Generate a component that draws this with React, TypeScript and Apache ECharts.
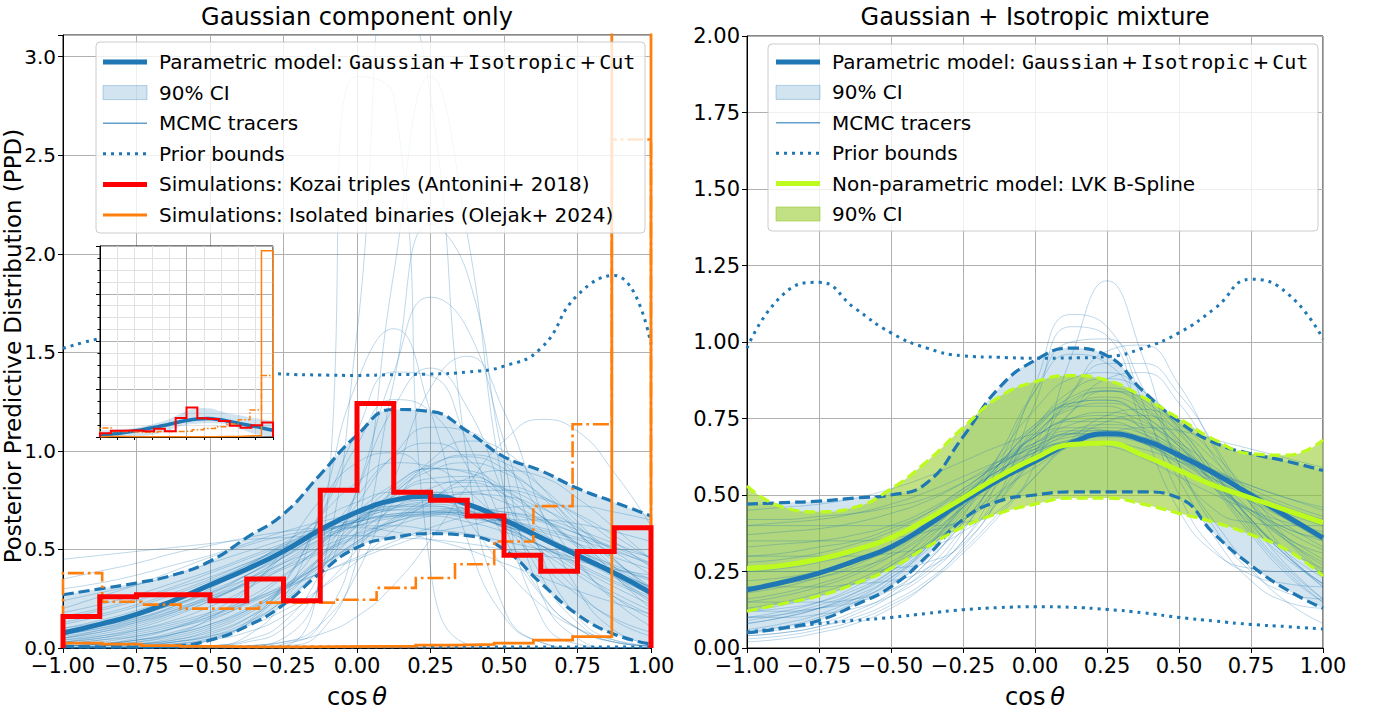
import { useEffect, useRef } from 'react';
import * as echarts from 'echarts';

// Sample positions (cos theta) shared by every smooth curve
const X = [-1, -0.875, -0.75, -0.625, -0.5, -0.375, -0.25, -0.125, 0, 0.125, 0.25, 0.375, 0.5, 0.625, 0.75, 0.875, 1];

// ---- Left panel: Gaussian component only ----
const G_MEDIAN = [0.076, 0.12, 0.17, 0.24, 0.32, 0.4, 0.49, 0.6, 0.69, 0.75, 0.77, 0.73, 0.65, 0.56, 0.47, 0.38, 0.28];
const G_UPPER = [0.27, 0.3, 0.33, 0.37, 0.44, 0.56, 0.68, 0.88, 1.08, 1.21, 1.2, 1.1, 0.97, 0.9, 0.81, 0.74, 0.67];
const G_LOWER = [0.01, 0.005, 0.005, 0.01, 0.04, 0.11, 0.22, 0.38, 0.51, 0.56, 0.58, 0.57, 0.5, 0.33, 0.17, 0.07, 0.02];
const G_PRIOR_UP = [1.52, 1.57, 1.6, 1.56, 1.48, 1.42, 1.39, 1.385, 1.383, 1.387, 1.39, 1.4, 1.43, 1.52, 1.79, 1.89, 1.54];
const G_PRIOR_LO = [0.005, 0.005, 0.005, 0.005, 0.005, 0.005, 0.005, 0.005, 0.005, 0.005, 0.005, 0.005, 0.005, 0.005, 0.005, 0.005, 0.005];

const TRACERS_GAUSSIAN = [
  [0.05, 0.08, 0.13, 0.19, 0.27, 0.37, 0.48, 0.59, 0.68, 0.74, 0.76, 0.73, 0.66, 0.57, 0.46, 0.36, 0.27],
  [0.15, 0.19, 0.24, 0.3, 0.36, 0.43, 0.5, 0.57, 0.62, 0.66, 0.68, 0.67, 0.64, 0.59, 0.53, 0.46, 0.4],
  [0.01, 0.02, 0.04, 0.08, 0.14, 0.23, 0.36, 0.52, 0.69, 0.83, 0.91, 0.9, 0.81, 0.67, 0.51, 0.36, 0.23],
  [0.1, 0.14, 0.19, 0.25, 0.33, 0.42, 0.52, 0.61, 0.68, 0.72, 0.72, 0.68, 0.61, 0.52, 0.43, 0.34, 0.26],
  [0.02, 0.04, 0.06, 0.1, 0.15, 0.22, 0.31, 0.42, 0.54, 0.65, 0.74, 0.78, 0.77, 0.71, 0.61, 0.49, 0.37],
  [0.01, 0.02, 0.05, 0.1, 0.18, 0.3, 0.47, 0.67, 0.84, 0.94, 0.92, 0.8, 0.62, 0.43, 0.27, 0.15, 0.08],
  [0.3, 0.33, 0.37, 0.42, 0.47, 0.53, 0.59, 0.64, 0.68, 0.7, 0.7, 0.68, 0.65, 0.61, 0.56, 0.51, 0.46],
  [0.0, 0.01, 0.02, 0.04, 0.08, 0.15, 0.27, 0.43, 0.62, 0.8, 0.93, 0.97, 0.91, 0.77, 0.59, 0.41, 0.26],
  [0.08, 0.11, 0.15, 0.2, 0.26, 0.33, 0.41, 0.49, 0.57, 0.64, 0.69, 0.71, 0.69, 0.65, 0.58, 0.5, 0.42],
  [0.0, 0.0, 0.01, 0.02, 0.05, 0.12, 0.25, 0.46, 0.73, 0.98, 1.12, 1.1, 0.94, 0.69, 0.44, 0.24, 0.11],
  [0.05, 0.09, 0.14, 0.21, 0.3, 0.41, 0.53, 0.65, 0.74, 0.79, 0.79, 0.73, 0.63, 0.51, 0.39, 0.28, 0.19],
  [0.0, 0.01, 0.02, 0.03, 0.06, 0.11, 0.19, 0.3, 0.44, 0.6, 0.75, 0.86, 0.9, 0.87, 0.76, 0.61, 0.45],
  [0.35, 0.39, 0.43, 0.48, 0.52, 0.56, 0.59, 0.61, 0.62, 0.62, 0.6, 0.58, 0.54, 0.5, 0.45, 0.4, 0.35],
  [0.04, 0.06, 0.09, 0.13, 0.18, 0.24, 0.31, 0.38, 0.45, 0.52, 0.58, 0.62, 0.65, 0.65, 0.63, 0.59, 0.54],
  [0.01, 0.02, 0.04, 0.07, 0.12, 0.2, 0.3, 0.43, 0.58, 0.71, 0.81, 0.85, 0.81, 0.72, 0.58, 0.44, 0.31],
  [0.0, 0.0, 0.01, 0.03, 0.07, 0.15, 0.3, 0.52, 0.77, 0.97, 1.04, 0.96, 0.75, 0.5, 0.29, 0.14, 0.06],
  [0.02, 0.04, 0.07, 0.11, 0.16, 0.23, 0.32, 0.42, 0.53, 0.64, 0.73, 0.79, 0.8, 0.76, 0.68, 0.57, 0.45],
  [0.2, 0.26, 0.32, 0.39, 0.46, 0.52, 0.57, 0.6, 0.61, 0.59, 0.55, 0.5, 0.43, 0.36, 0.29, 0.23, 0.17],
  [0.03, 0.05, 0.08, 0.12, 0.17, 0.23, 0.3, 0.38, 0.46, 0.54, 0.61, 0.67, 0.71, 0.72, 0.72, 0.69, 0.65],
  [0.07, 0.1, 0.14, 0.19, 0.25, 0.32, 0.4, 0.48, 0.56, 0.62, 0.67, 0.69, 0.68, 0.64, 0.58, 0.51, 0.43],
  [0.45, 0.47, 0.49, 0.51, 0.53, 0.55, 0.56, 0.57, 0.57, 0.56, 0.55, 0.53, 0.5, 0.47, 0.44, 0.4, 0.37],
  [0.12, 0.16, 0.21, 0.27, 0.34, 0.42, 0.51, 0.6, 0.67, 0.71, 0.72, 0.69, 0.63, 0.55, 0.46, 0.37, 0.29],
  [0.03, 0.05, 0.09, 0.14, 0.21, 0.3, 0.41, 0.53, 0.65, 0.74, 0.79, 0.79, 0.74, 0.65, 0.53, 0.41, 0.3],
  [0.06, 0.09, 0.13, 0.18, 0.25, 0.33, 0.43, 0.54, 0.64, 0.71, 0.74, 0.72, 0.66, 0.57, 0.47, 0.37, 0.28],
  [0.0, 0.01, 0.02, 0.05, 0.1, 0.18, 0.3, 0.45, 0.62, 0.77, 0.86, 0.87, 0.8, 0.67, 0.52, 0.37, 0.24],
  [0.18, 0.22, 0.27, 0.33, 0.39, 0.46, 0.53, 0.59, 0.64, 0.67, 0.68, 0.66, 0.62, 0.56, 0.49, 0.42, 0.35],
  [0.01, 0.02, 0.03, 0.06, 0.11, 0.19, 0.31, 0.46, 0.63, 0.79, 0.9, 0.94, 0.89, 0.78, 0.62, 0.45, 0.3],
  [0.09, 0.12, 0.17, 0.22, 0.29, 0.37, 0.46, 0.55, 0.62, 0.67, 0.69, 0.67, 0.62, 0.55, 0.47, 0.39, 0.31],
  [0.0, 0.01, 0.03, 0.07, 0.15, 0.29, 0.5, 0.75, 0.94, 0.99, 0.87, 0.65, 0.41, 0.22, 0.1, 0.04, 0.01],
  [0.0, 0.0, 0.01, 0.02, 0.04, 0.08, 0.16, 0.3, 0.5, 0.74, 0.95, 1.05, 1.0, 0.82, 0.59, 0.37, 0.2],
  [0.04, 0.07, 0.11, 0.17, 0.24, 0.33, 0.44, 0.55, 0.65, 0.72, 0.75, 0.73, 0.67, 0.58, 0.48, 0.38, 0.29],
  [0.13, 0.17, 0.22, 0.28, 0.35, 0.43, 0.51, 0.58, 0.64, 0.68, 0.69, 0.67, 0.62, 0.56, 0.49, 0.41, 0.34],
  [0.02, 0.03, 0.06, 0.1, 0.16, 0.25, 0.37, 0.51, 0.65, 0.77, 0.84, 0.84, 0.78, 0.67, 0.53, 0.39, 0.27],
  [0.07, 0.1, 0.15, 0.21, 0.28, 0.37, 0.47, 0.57, 0.65, 0.7, 0.71, 0.68, 0.61, 0.52, 0.42, 0.33, 0.25],
  [0.0, 0.01, 0.02, 0.04, 0.09, 0.17, 0.29, 0.46, 0.65, 0.82, 0.91, 0.89, 0.78, 0.6, 0.42, 0.26, 0.15],
  [0.24, 0.28, 0.32, 0.37, 0.43, 0.49, 0.55, 0.61, 0.65, 0.68, 0.69, 0.68, 0.65, 0.6, 0.55, 0.49, 0.43],
  [0.01, 0.02, 0.04, 0.07, 0.12, 0.19, 0.29, 0.41, 0.54, 0.66, 0.76, 0.82, 0.82, 0.77, 0.67, 0.54, 0.41],
  [0.05, 0.08, 0.12, 0.18, 0.26, 0.35, 0.46, 0.57, 0.66, 0.72, 0.73, 0.7, 0.62, 0.52, 0.41, 0.31, 0.22],
  [0.0, 0.0, 0.01, 0.03, 0.06, 0.13, 0.24, 0.4, 0.59, 0.78, 0.92, 0.98, 0.94, 0.82, 0.64, 0.45, 0.29],
  [0.1, 0.13, 0.17, 0.22, 0.28, 0.35, 0.43, 0.51, 0.58, 0.64, 0.68, 0.7, 0.69, 0.66, 0.6, 0.53, 0.46],
  [0.03, 0.06, 0.1, 0.16, 0.24, 0.34, 0.46, 0.58, 0.68, 0.74, 0.75, 0.7, 0.61, 0.49, 0.37, 0.26, 0.17],
  [0.16, 0.2, 0.25, 0.31, 0.38, 0.45, 0.52, 0.59, 0.64, 0.67, 0.67, 0.64, 0.59, 0.52, 0.45, 0.38, 0.31],
  // narrow, strongly peaked draws
  [0, 0, 0, 0, 0, 0.01, 0.05, 0.35, 1.6, 3.5, 2.8, 0.95, 0.2, 0.03, 0, 0, 0],
  [0, 0, 0, 0, 0, 0, 0.02, 0.12, 0.6, 1.9, 2.9, 2.1, 0.8, 0.16, 0.02, 0, 0],
  [0, 0, 0, 0, 0.01, 0.06, 0.25, 0.7, 1.35, 1.62, 1.2, 0.55, 0.16, 0.03, 0, 0, 0],
  [0, 0, 0, 0, 0.01, 0.03, 0.1, 0.33, 0.8, 1.4, 1.78, 1.62, 1.05, 0.48, 0.16, 0.04, 0.01],
  [0, 0, 0, 0.01, 0.04, 0.12, 0.32, 0.67, 1.1, 1.4, 1.38, 1.05, 0.62, 0.28, 0.1, 0.03, 0.01],
  [0, 0, 0, 0, 0.01, 0.04, 0.13, 0.38, 0.8, 1.22, 1.42, 1.22, 0.78, 0.37, 0.13, 0.03, 0.01],
  [0, 0, 0, 0.01, 0.04, 0.13, 0.33, 0.66, 1.03, 1.26, 1.2, 0.92, 0.56, 0.27, 0.1, 0.03, 0.01],
  [0, 0, 0, 0, 0, 0.01, 0.03, 0.07, 0.16, 0.32, 0.55, 0.82, 1.05, 1.16, 1.1, 0.89, 0.62],
  [0, 0, 0, 0, 0, 0, 0.01, 0.4, 2.9, 2.8, 0.4, 0.02, 0, 0, 0, 0, 0],
  [0, 0, 0, 0, 0, 0, 0.01, 0.08, 0.45, 1.35, 2.15, 1.9, 0.95, 0.28, 0.05, 0, 0],
  [0, 0, 0, 0, 0, 0.01, 0.03, 0.12, 0.38, 0.85, 1.32, 1.48, 1.2, 0.7, 0.3, 0.09, 0.02],
];

// Simulation histograms
const KOZAI_EDGES = [-1, -0.875, -0.75, -0.625, -0.5, -0.375, -0.25, -0.125, 0, 0.125, 0.25, 0.375, 0.5, 0.625, 0.75, 0.875, 1];
const KOZAI_DENSITY = [0.16, 0.26, 0.27, 0.27, 0.24, 0.35, 0.24, 0.8, 1.24, 0.79, 0.75, 0.67, 0.47, 0.39, 0.49, 0.61];
const OLEJAK_EDGES = [-1, -0.8667, -0.7333, -0.6, -0.4667, -0.3333, -0.2, -0.0667, 0.0667, 0.2, 0.3333, 0.4667, 0.6, 0.7333, 0.8667, 1];
const OLEJAK_DENSITY = [0.025, 0.02, 0.012, 0.008, 0.006, 0.006, 0.007, 0.008, 0.01, 0.015, 0.018, 0.025, 0.04, 0.058, 7.8];
const OLEJAK_ALT_DENSITY = [0.38, 0.235, 0.22, 0.2, 0.2, 0.23, 0.23, 0.245, 0.305, 0.355, 0.425, 0.54, 0.72, 1.135, 2.58];

// ---- Right panel: Gaussian + Isotropic mixture ----
const M_MEDIAN = [0.19, 0.215, 0.245, 0.285, 0.33, 0.4, 0.48, 0.55, 0.61, 0.67, 0.7, 0.68, 0.63, 0.57, 0.5, 0.43, 0.36];
const M_UPPER = [0.47, 0.475, 0.48, 0.49, 0.5, 0.54, 0.69, 0.85, 0.94, 0.98, 0.955, 0.84, 0.74, 0.67, 0.635, 0.61, 0.58];
const M_LOWER = [0.05, 0.065, 0.09, 0.14, 0.2, 0.3, 0.42, 0.48, 0.5, 0.51, 0.51, 0.51, 0.49, 0.37, 0.27, 0.19, 0.13];
const M_PRIOR_UP = [0.98, 1.155, 1.195, 1.11, 1.03, 0.98, 0.955, 0.95, 0.947, 0.948, 0.952, 0.98, 1.03, 1.11, 1.205, 1.16, 1.01];
const M_PRIOR_LO = [0.052, 0.066, 0.08, 0.09, 0.1, 0.113, 0.125, 0.132, 0.135, 0.133, 0.126, 0.115, 0.1, 0.088, 0.077, 0.07, 0.062];
const SPLINE_MEDIAN = [0.26, 0.27, 0.29, 0.32, 0.36, 0.42, 0.49, 0.56, 0.62, 0.665, 0.67, 0.63, 0.58, 0.53, 0.49, 0.45, 0.41];
const SPLINE_UPPER = [0.53, 0.46, 0.445, 0.46, 0.52, 0.61, 0.72, 0.82, 0.87, 0.89, 0.875, 0.82, 0.75, 0.68, 0.635, 0.63, 0.68];
const SPLINE_LOWER = [0.12, 0.145, 0.17, 0.21, 0.26, 0.33, 0.395, 0.44, 0.47, 0.49, 0.49, 0.47, 0.44, 0.41, 0.37, 0.32, 0.235];

const TRACERS_MIXTURE = [
  [0.19, 0.21, 0.24, 0.28, 0.33, 0.4, 0.48, 0.56, 0.63, 0.68, 0.7, 0.68, 0.62, 0.55, 0.48, 0.42, 0.36],
  [0.1, 0.12, 0.15, 0.2, 0.27, 0.37, 0.49, 0.62, 0.73, 0.8, 0.81, 0.76, 0.66, 0.54, 0.42, 0.31, 0.23],
  [0.4, 0.41, 0.42, 0.44, 0.47, 0.51, 0.56, 0.61, 0.65, 0.67, 0.67, 0.65, 0.61, 0.57, 0.53, 0.49, 0.46],
  [0.05, 0.07, 0.1, 0.15, 0.22, 0.33, 0.47, 0.63, 0.78, 0.88, 0.9, 0.84, 0.71, 0.55, 0.39, 0.26, 0.16],
  [0.25, 0.26, 0.28, 0.31, 0.36, 0.42, 0.5, 0.58, 0.64, 0.67, 0.66, 0.62, 0.56, 0.5, 0.45, 0.41, 0.38],
  [0.15, 0.17, 0.2, 0.24, 0.3, 0.38, 0.48, 0.59, 0.69, 0.75, 0.77, 0.74, 0.66, 0.56, 0.45, 0.35, 0.27],
  [0.3, 0.31, 0.33, 0.35, 0.39, 0.44, 0.51, 0.58, 0.64, 0.68, 0.69, 0.67, 0.63, 0.58, 0.53, 0.49, 0.45],
  [0.4, 0.4, 0.4, 0.4, 0.4, 0.4, 0.41, 0.45, 0.6, 0.95, 1.2, 0.95, 0.6, 0.45, 0.41, 0.4, 0.4],
  [0.2, 0.2, 0.2, 0.21, 0.22, 0.26, 0.35, 0.56, 0.86, 1.09, 1.05, 0.8, 0.5, 0.32, 0.24, 0.21, 0.2],
  [0.15, 0.15, 0.15, 0.16, 0.19, 0.25, 0.38, 0.6, 0.84, 1.0, 1.01, 0.85, 0.6, 0.39, 0.25, 0.18, 0.16],
  [0.1, 0.1, 0.11, 0.13, 0.17, 0.24, 0.35, 0.5, 0.67, 0.83, 0.93, 0.93, 0.83, 0.66, 0.47, 0.31, 0.2],
  [0.04, 0.05, 0.07, 0.1, 0.15, 0.22, 0.32, 0.44, 0.56, 0.67, 0.74, 0.76, 0.71, 0.61, 0.48, 0.35, 0.24],
  [0.45, 0.46, 0.47, 0.49, 0.52, 0.56, 0.61, 0.66, 0.7, 0.72, 0.71, 0.67, 0.61, 0.53, 0.45, 0.38, 0.32],
  [0.12, 0.14, 0.17, 0.21, 0.27, 0.34, 0.42, 0.51, 0.59, 0.66, 0.7, 0.72, 0.71, 0.68, 0.65, 0.62, 0.59],
  [0.05, 0.06, 0.08, 0.12, 0.18, 0.28, 0.41, 0.56, 0.71, 0.81, 0.84, 0.79, 0.67, 0.52, 0.37, 0.24, 0.15],
  [0.35, 0.35, 0.35, 0.35, 0.36, 0.38, 0.42, 0.5, 0.62, 0.77, 0.88, 0.9, 0.8, 0.62, 0.47, 0.39, 0.36],
  [0.08, 0.1, 0.13, 0.18, 0.25, 0.35, 0.47, 0.6, 0.72, 0.79, 0.79, 0.71, 0.57, 0.41, 0.26, 0.15, 0.08],
  [0.22, 0.23, 0.25, 0.28, 0.32, 0.39, 0.47, 0.56, 0.64, 0.7, 0.72, 0.7, 0.64, 0.56, 0.48, 0.4, 0.33],
  [0.12, 0.12, 0.13, 0.15, 0.19, 0.28, 0.43, 0.63, 0.84, 0.96, 0.93, 0.77, 0.55, 0.36, 0.22, 0.15, 0.13],
  [0.03, 0.04, 0.06, 0.09, 0.14, 0.21, 0.31, 0.43, 0.56, 0.68, 0.76, 0.78, 0.73, 0.63, 0.5, 0.36, 0.25],
  [0.18, 0.2, 0.23, 0.27, 0.33, 0.41, 0.51, 0.61, 0.69, 0.74, 0.74, 0.7, 0.62, 0.53, 0.44, 0.36, 0.29],
  [0.08, 0.1, 0.13, 0.17, 0.23, 0.32, 0.44, 0.57, 0.7, 0.79, 0.82, 0.78, 0.68, 0.55, 0.42, 0.3, 0.21],
  [0.33, 0.34, 0.35, 0.37, 0.4, 0.45, 0.52, 0.6, 0.67, 0.71, 0.71, 0.67, 0.6, 0.52, 0.45, 0.39, 0.35],
  [0.12, 0.13, 0.15, 0.19, 0.25, 0.34, 0.46, 0.6, 0.72, 0.8, 0.81, 0.75, 0.64, 0.52, 0.41, 0.32, 0.26],
  [0.3, 0.3, 0.3, 0.3, 0.31, 0.33, 0.38, 0.48, 0.64, 0.83, 0.97, 0.99, 0.86, 0.65, 0.47, 0.36, 0.31],
  [0.02, 0.03, 0.05, 0.08, 0.13, 0.21, 0.33, 0.48, 0.64, 0.77, 0.84, 0.82, 0.72, 0.57, 0.41, 0.27, 0.16],
  [0.26, 0.27, 0.29, 0.32, 0.36, 0.42, 0.5, 0.58, 0.65, 0.69, 0.7, 0.68, 0.63, 0.57, 0.51, 0.46, 0.42],
  [0.42, 0.42, 0.43, 0.44, 0.46, 0.49, 0.54, 0.6, 0.66, 0.7, 0.71, 0.69, 0.64, 0.58, 0.52, 0.47, 0.43],
  [0.16, 0.18, 0.21, 0.25, 0.31, 0.39, 0.49, 0.6, 0.69, 0.75, 0.76, 0.72, 0.64, 0.54, 0.44, 0.35, 0.28],
  [0.06, 0.08, 0.11, 0.16, 0.23, 0.33, 0.46, 0.6, 0.73, 0.82, 0.85, 0.81, 0.7, 0.56, 0.42, 0.3, 0.2],
  [0.28, 0.29, 0.31, 0.34, 0.38, 0.44, 0.52, 0.6, 0.66, 0.7, 0.7, 0.67, 0.61, 0.55, 0.49, 0.44, 0.4],
  [0.09, 0.11, 0.14, 0.18, 0.24, 0.33, 0.45, 0.58, 0.7, 0.78, 0.8, 0.76, 0.66, 0.53, 0.4, 0.29, 0.21],
  [0.2, 0.21, 0.23, 0.26, 0.3, 0.37, 0.46, 0.56, 0.65, 0.71, 0.73, 0.71, 0.65, 0.57, 0.49, 0.42, 0.36],
  [0.37, 0.38, 0.39, 0.41, 0.44, 0.48, 0.54, 0.61, 0.67, 0.7, 0.7, 0.67, 0.62, 0.56, 0.5, 0.45, 0.41],
  [0.04, 0.05, 0.07, 0.11, 0.17, 0.26, 0.39, 0.54, 0.69, 0.8, 0.84, 0.8, 0.68, 0.53, 0.38, 0.25, 0.15],
  [0.13, 0.15, 0.18, 0.22, 0.28, 0.36, 0.46, 0.57, 0.67, 0.73, 0.75, 0.73, 0.67, 0.59, 0.5, 0.42, 0.35],
  [0.25, 0.25, 0.25, 0.25, 0.26, 0.28, 0.34, 0.5, 0.8, 1.05, 1.02, 0.72, 0.45, 0.31, 0.26, 0.25, 0.25],
  [0.1, 0.11, 0.13, 0.16, 0.21, 0.29, 0.41, 0.56, 0.72, 0.84, 0.88, 0.84, 0.72, 0.57, 0.42, 0.3, 0.21],
];

const TICKS_LEFT_Y = [0, 0.5, 1, 1.5, 2, 2.5, 3];

const BLUE = '#1f77b4';
const RED = '#ff0000';
const ORANGE = '#ff7f0e';
const LIME = '#bdfb1e';
const BAND_BLUE = 'rgba(31,119,180,0.2)';
const BAND_GREEN = 'rgba(154,205,50,0.6)';
const TRACER = 'rgba(31,119,180,0.42)';
const FONT = 'DejaVu Sans';
const MONO = 'DejaVu Sans Mono';

const pts = (ys: number[]) => X.map((x, i) => [x, ys[i]]);

function steps(edges: number[], vals: number[]) {
  const out: number[][] = [[edges[0], 0]];
  vals.forEach((v, i) => {
    out.push([edges[i], v]);
    out.push([edges[i + 1], v]);
  });
  out.push([edges[edges.length - 1], 0]);
  return out;
}

// Same control-point rule as the line series' smoothing (smooth = 0.5)
function smoothPath(p: number[][], joinWithLine: boolean, smooth = 0.5) {
  let d = '';
  let prevX = 0, prevY = 0, cpx0 = 0, cpy0 = 0;
  const n = p.length;
  for (let k = 0; k < n; k++) {
    const x = p[k][0], y = p[k][1];
    if (k === 0) {
      d += (joinWithLine ? 'L' : 'M') + x + ',' + y;
      cpx0 = x; cpy0 = y;
    } else {
      let cpx1 = x, cpy1 = y, ncx = x, ncy = y;
      if (k < n - 1) {
        const nx = p[k + 1][0], ny = p[k + 1][1];
        let vx = nx - prevX, vy = ny - prevY;
        const lp = Math.hypot(x - prevX, y - prevY);
        const ln = Math.hypot(nx - x, ny - y);
        const r = ln / (ln + lp);
        ncx = x + vx * smooth * r; ncy = y + vy * smooth * r;
        ncx = Math.min(ncx, Math.max(nx, x)); ncy = Math.min(ncy, Math.max(ny, y));
        ncx = Math.max(ncx, Math.min(nx, x)); ncy = Math.max(ncy, Math.min(ny, y));
        vx = ncx - x; vy = ncy - y;
        cpx1 = x - vx * lp / ln; cpy1 = y - vy * lp / ln;
        cpx1 = Math.min(cpx1, Math.max(prevX, x)); cpy1 = Math.min(cpy1, Math.max(prevY, y));
        cpx1 = Math.max(cpx1, Math.min(prevX, x)); cpy1 = Math.max(cpy1, Math.min(prevY, y));
        vx = x - cpx1; vy = y - cpy1;
        ncx = x + vx * ln / lp; ncy = y + vy * ln / lp;
      }
      d += 'C' + cpx0 + ',' + cpy0 + ',' + cpx1 + ',' + cpy1 + ',' + x + ',' + y;
      cpx0 = ncx; cpy0 = ncy;
    }
    prevX = x; prevY = y;
  }
  return d;
}

function band(axis: number, lower: number[], upper: number[], color: string, z: number) {
  return {
    type: 'custom',
    coordinateSystem: 'cartesian2d',
    xAxisIndex: axis,
    yAxisIndex: axis,
    silent: true,
    z,
    data: [[X[0], lower[0]]],
    renderItem: (_p: any, api: any) => {
      const up = X.map((x, i) => api.coord([x, upper[i]]));
      const lo = X.map((x, i) => api.coord([x, lower[i]])).reverse();
      return {
        type: 'path',
        shape: { pathData: smoothPath(up, false) + smoothPath(lo, true) + 'Z' },
        style: { fill: color },
      };
    },
  };
}

function line(axis: number, data: number[][], lineStyle: any, smooth: boolean, z = 2) {
  return {
    type: 'line',
    xAxisIndex: axis,
    yAxisIndex: axis,
    data,
    smooth,
    symbol: 'none',
    silent: true,
    z,
    lineStyle: { join: 'miter', ...lineStyle },
  };
}

const DASHED = (color: string) => ({ color, width: 3.2, type: [11, 5] });
const DOTTED = { color: BLUE, width: 3, type: [3, 5] };
const DASHDOT = { color: ORANGE, width: 2.6, type: [16, 4, 2.6, 4] };

const fmtX = (v: number) => (v < 0 ? '\u2212' : '') + Math.abs(v).toFixed(2);

function mainAxes(grid: number, yMax: number, yInterval: number, yFmt: (v: number) => string, yFont: number) {
  const common = {
    gridIndex: grid,
    type: 'value',
    axisLine: { show: true, onZero: false, lineStyle: { color: '#000', width: 1 } },
    axisTick: { show: true, length: 5, lineStyle: { color: '#000', width: 1 } },
    splitLine: { show: true, lineStyle: { color: '#b0b0b0', width: 1 } },
  };
  return {
    x: {
      ...common,
      min: -1,
      max: 1,
      interval: 0.25,
      axisLabel: { formatter: fmtX, fontFamily: FONT, fontSize: 21, lineHeight: 16, color: '#000', margin: 10 },
    },
    y: {
      ...common,
      min: 0,
      max: yMax,
      interval: yInterval,
      axisLabel: { formatter: yFmt, fontFamily: FONT, fontSize: yFont, lineHeight: 16, color: '#000', margin: 7 },
    },
  };
}

type Entry = { kind: 'line' | 'patch'; style: any; text: string; rich?: boolean };

function legend(x: number, y: number, w: number, h: number, hx: number, tx: number, row0: number, dy: number, entries: Entry[]) {
  const els: any[] = [
    {
      type: 'rect',
      z: 100,
      shape: { x, y, width: w, height: h, r: 4 },
      style: { fill: 'rgba(255,255,255,0.8)', stroke: '#cccccc', lineWidth: 1 },
    },
  ];
  entries.forEach((e, i) => {
    const cy = row0 + i * dy;
    if (e.kind === 'line') {
      els.push({ type: 'line', z: 101, shape: { x1: hx, y1: cy, x2: hx + 44, y2: cy }, style: e.style });
    } else {
      els.push({ type: 'rect', z: 101, shape: { x: hx, y: cy - 7, width: 44, height: 14 }, style: e.style });
    }
    const text: any = {
      type: 'text',
      z: 101,
      x: tx,
      y: cy,
      style: {
        text: e.text,
        fontFamily: FONT,
        fontSize: 20,
        fill: '#000',
        textAlign: 'left',
        textVerticalAlign: 'middle',
      },
    };
    if (e.rich) {
      text.style.rich = {
        t: { fontFamily: FONT, fontSize: 20, fill: '#000' },
        m: { fontFamily: MONO, fontSize: 20, fill: '#000' },
        p: { fontFamily: FONT, fontSize: 20, fill: '#000', padding: [0, 3] },
      };
    }
    els.push(text);
  });
  return els;
}

const PARAMETRIC = '{t|Parametric model: }{m|Gaussian}{p|+}{m|Isotropic}{p|+}{m|Cut}';

function buildOption() {
  const left = mainAxes(0, 3.11, 0.5, (v) => (TICKS_LEFT_Y.some((t) => Math.abs(t - v) < 1e-6) ? v.toFixed(1) : ''), 20);
  const right = mainAxes(1, 2, 0.25, (v) => v.toFixed(2), 21);

  const insetX = {
    gridIndex: 2,
    type: 'value',
    min: -1,
    max: 1,
    interval: 1,
    z: 11,
    axisLabel: { show: false },
    axisLine: { show: true, onZero: false, lineStyle: { color: '#000', width: 1 } },
    axisTick: { show: true, length: 3, lineStyle: { color: '#000' } },
    minorTick: { show: true, splitNumber: 5, length: 3, lineStyle: { color: '#000' } },
    splitLine: { show: true, lineStyle: { color: '#b0b0b0', width: 1 } },
    minorSplitLine: { show: true, lineStyle: { color: '#e2e2e2', width: 1 } },
  };
  const insetY = {
    gridIndex: 2,
    type: 'value',
    min: 0,
    max: 8,
    interval: 2,
    z: 11,
    axisLabel: { show: false },
    axisLine: { show: true, onZero: false, lineStyle: { color: '#000', width: 1 } },
    axisTick: { show: true, length: 4, lineStyle: { color: '#000' } },
    minorTick: { show: true, splitNumber: 4, length: 2.5, lineStyle: { color: '#000' } },
    splitLine: { show: true, lineStyle: { color: '#b0b0b0', width: 1 } },
    minorSplitLine: { show: true, lineStyle: { color: '#e2e2e2', width: 1 } },
  };

  const series: any[] = [];

  // Left panel
  series.push(band(0, G_LOWER, G_UPPER, BAND_BLUE, 1));
  TRACERS_GAUSSIAN.forEach((t) => series.push(line(0, pts(t), { color: TRACER, width: 0.7 }, true)));
  series.push(line(0, pts(G_UPPER), DASHED(BLUE), true));
  series.push(line(0, pts(G_LOWER), DASHED(BLUE), true));
  series.push(line(0, pts(G_MEDIAN), { color: BLUE, width: 5 }, true));
  series.push(line(0, pts(G_PRIOR_UP), DOTTED, true));
  series.push(line(0, pts(G_PRIOR_LO), DOTTED, true));
  series.push(line(0, steps(OLEJAK_EDGES, OLEJAK_ALT_DENSITY), DASHDOT, false));
  series.push(line(0, steps(OLEJAK_EDGES, OLEJAK_DENSITY), { color: ORANGE, width: 2.8 }, false));
  series.push(line(0, steps(KOZAI_EDGES, KOZAI_DENSITY), { color: RED, width: 5 }, false));

  // Inset (full vertical range)
  series.push(band(2, G_LOWER, G_UPPER, BAND_BLUE, 12));
  series.push(line(2, pts(G_MEDIAN), { color: BLUE, width: 3.5 }, true, 13));
  series.push(line(2, steps(OLEJAK_EDGES, OLEJAK_ALT_DENSITY), { color: ORANGE, width: 1.5, type: [6, 2, 1.5, 2] }, false, 13));
  series.push(line(2, steps(OLEJAK_EDGES, OLEJAK_DENSITY), { color: ORANGE, width: 1.5 }, false, 13));
  series.push(line(2, steps(KOZAI_EDGES, KOZAI_DENSITY), { color: RED, width: 2 }, false, 13));

  // Right panel
  series.push(band(1, M_LOWER, M_UPPER, BAND_BLUE, 1));
  series.push(band(1, SPLINE_LOWER, SPLINE_UPPER, BAND_GREEN, 1));
  TRACERS_MIXTURE.forEach((t) => series.push(line(1, pts(t), { color: TRACER, width: 0.7 }, true)));
  series.push(line(1, pts(M_UPPER), DASHED(BLUE), true, 3));
  series.push(line(1, pts(M_LOWER), DASHED(BLUE), true, 3));
  series.push(line(1, pts(M_MEDIAN), { color: BLUE, width: 5 }, true, 3));
  series.push(line(1, pts(SPLINE_UPPER), DASHED(LIME), true, 3));
  series.push(line(1, pts(SPLINE_LOWER), DASHED(LIME), true, 3));
  series.push(line(1, pts(SPLINE_MEDIAN), { color: LIME, width: 5 }, true, 3));
  series.push(line(1, pts(M_PRIOR_UP), DOTTED, true, 3));
  series.push(line(1, pts(M_PRIOR_LO), DOTTED, true, 3));

  const texts: any[] = [
    {
      type: 'text', z: 100, x: 357, y: 17,
      style: { text: 'Gaussian component only', fontFamily: FONT, fontSize: 24, fill: '#000', textAlign: 'center', textVerticalAlign: 'middle' },
    },
    {
      type: 'text', z: 100, x: 1035, y: 17,
      style: { text: 'Gaussian + Isotropic mixture', fontFamily: FONT, fontSize: 24, fill: '#000', textAlign: 'center', textVerticalAlign: 'middle' },
    },
    {
      type: 'text', z: 100, x: 13, y: 346, rotation: Math.PI / 2,
      style: { text: 'Posterior Predictive Distribution (PPD)', fontFamily: FONT, fontSize: 23, fill: '#000', textAlign: 'center', textVerticalAlign: 'middle' },
    },
  ];
  [357, 1035].forEach((cx) =>
    texts.push({
      type: 'text', z: 100, x: cx, y: 697,
      style: {
        text: '{n|cos\u2009}{i|\u03b8}',
        fontFamily: FONT, fontSize: 24, fill: '#000', textAlign: 'center', textVerticalAlign: 'middle',
        rich: {
          n: { fontFamily: FONT, fontSize: 24, fill: '#000' },
          i: { fontFamily: FONT, fontSize: 24, fontStyle: 'italic', fill: '#000' },
        },
      },
    })
  );

  const common: Entry[] = [
    { kind: 'line', style: { stroke: BLUE, lineWidth: 5 }, text: PARAMETRIC, rich: true },
    { kind: 'patch', style: { fill: BAND_BLUE, stroke: 'rgba(31,119,180,0.3)', lineWidth: 1 }, text: '90% CI' },
    { kind: 'line', style: { stroke: 'rgba(31,119,180,0.7)', lineWidth: 1.5 }, text: 'MCMC tracers' },
    { kind: 'line', style: { stroke: BLUE, lineWidth: 3, lineDash: [3, 5] }, text: 'Prior bounds' },
  ];
  const leftLegend = legend(96, 42, 549, 191, 103, 159, 62, 30.6, [
    ...common,
    { kind: 'line', style: { stroke: RED, lineWidth: 5 }, text: 'Simulations: Kozai triples (Antonini+ 2018)' },
    { kind: 'line', style: { stroke: ORANGE, lineWidth: 3 }, text: 'Simulations: Isolated binaries (Olejak+ 2024)' },
  ]);
  const rightLegend = legend(768, 44, 550, 187, 776, 832, 62, 30.4, [
    ...common,
    { kind: 'line', style: { stroke: LIME, lineWidth: 5 }, text: 'Non-parametric model: LVK B-Spline' },
    { kind: 'patch', style: { fill: BAND_GREEN, stroke: BAND_GREEN, lineWidth: 1 }, text: '90% CI' },
  ]);

  return {
    animation: false,
    backgroundColor: '#ffffff',
    grid: [
      { left: 63, top: 35, width: 588, height: 613, show: true, borderColor: '#111', borderWidth: 1, backgroundColor: 'transparent' },
      { left: 747, top: 36, width: 576, height: 612, show: true, borderColor: '#111', borderWidth: 1, backgroundColor: 'transparent' },
      { left: 100, top: 246, width: 173, height: 191, show: true, borderColor: '#000', borderWidth: 1, backgroundColor: '#ffffff', z: 10 },
    ],
    xAxis: [left.x, right.x, insetX],
    yAxis: [left.y, right.y, insetY],
    series,
    graphic: { elements: [...texts, ...leftLegend, ...rightLegend] },
  };
}

export default function App() {
  const ref = useRef<HTMLDivElement>(null);
  useEffect(() => {
    if (!ref.current) return;
    const chart = echarts.init(ref.current, undefined, { renderer: 'svg' });
    chart.setOption(buildOption() as any);
    return () => chart.dispose();
  }, []);
  return (
    <div
      ref={ref}
      style={{ position: 'fixed', left: 0, top: 0, width: 1375, height: 716, background: '#fff' }}
    />
  );
}
